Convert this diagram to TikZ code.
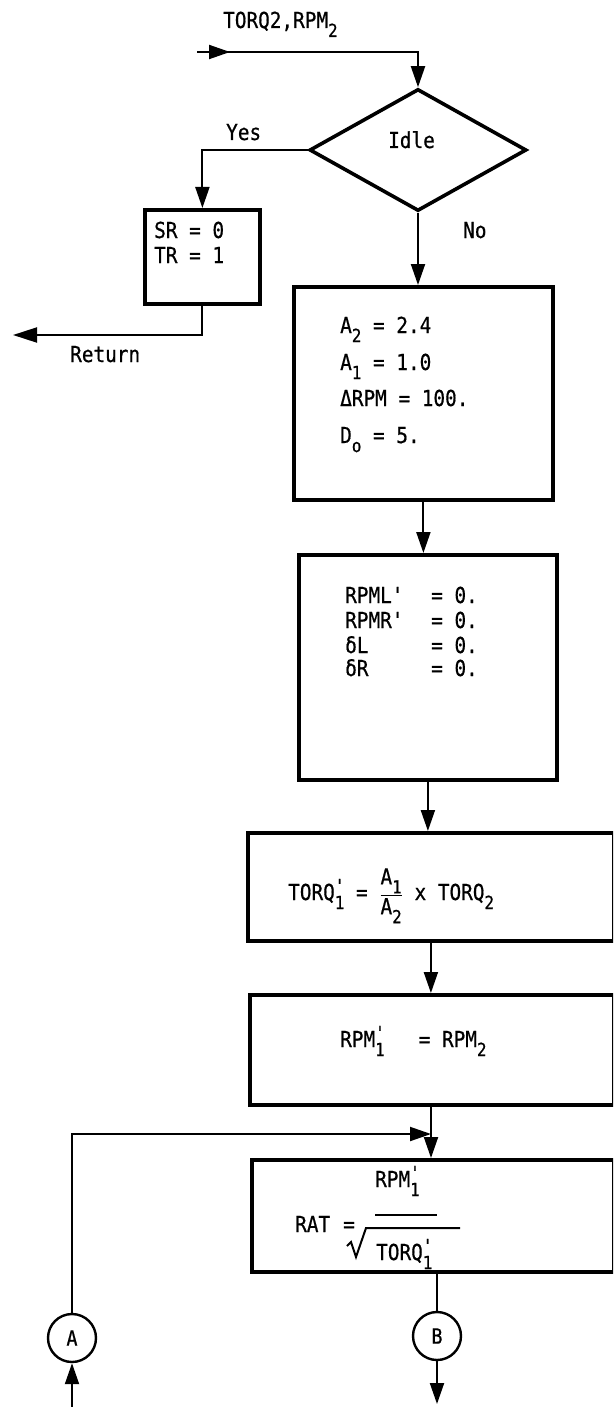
\documentclass[tikz,border=0pt]{standalone}
\usepackage{fontspec}
\setmainfont{DejaVu Sans Mono}
\newfontfamily\mono{DejaVu Sans Mono}[FakeStretch=0.88, FakeBold=0.6]
\usetikzlibrary{arrows.meta,shapes.geometric}
\newcommand\sbs[1]{\raisebox{-9pt}{\fontsize{18}{18}\selectfont #1}}
\newcommand\psb[1]{\makebox[0pt][l]{\raisebox{8pt}{\fontsize{18}{18}\selectfont '}}\raisebox{-9pt}{\fontsize{18}{18}\selectfont #1}}
\begin{document}
\begin{tikzpicture}[x=1pt,y=-1pt,
  box/.style={draw, line width=3.8pt, rectangle, inner sep=0pt, anchor=north west},
  conn/.style={line width=2pt},
  arr/.style={-{Triangle[length=21pt,width=14pt]}},
  txt/.style={inner sep=0pt, anchor=base west, font=\mono\fontsize{22}{26}\selectfont},
  conn2/.style={draw, circle, line width=2.4pt, minimum size=48pt, inner sep=0pt, font=\mono\fontsize{21}{24}\selectfont}]
\useasboundingbox (0,0) rectangle (613,1407);
\clip (0,0) rectangle (613,1407);
\fill[white] (0,0) rectangle (613,1407);

% title and decision
\node[txt] (title) at (223,28) {TORQ2,RPM\sbs{2}};
\node[draw, diamond, line width=3.6pt, minimum width=217pt, minimum height=122pt, inner sep=0pt] (dm) at (418,150) {};
\node[txt] (idle) at (388,148) {Idle};
\node[txt] (yes) at (226,140) {Yes};
\node[txt] (no) at (463,238) {No};

% boxes
\node[box, minimum width=115pt, minimum height=94pt] (sr) at (143,208) {};
\node[box, minimum width=259pt, minimum height=213pt] (pa) at (292,285) {};
\node[box, minimum width=258pt, minimum height=225pt] (pb) at (297,553) {};
\node[box, minimum width=366pt, minimum height=108pt] (tq) at (246,831) {};
\node[box, minimum width=364pt, minimum height=110pt] (rp) at (248,993) {};
\node[box, minimum width=362pt, minimum height=112pt] (rt) at (250,1158) {};

% box texts
\node[txt] (sr1) at (154,238) {SR = 0};
\node[txt] (sr2) at (154,263) {TR = 1};
\node[txt] (ret) at (70,362) {Return};

\node[txt] (pa1) at (340,333) {A\sbs{2} = 2.4};
\node[txt] (pa2) at (340,370) {A\sbs{1} = 1.0};
\node[txt] (pa3) at (340,406) {ΔRPM = 100.};
\node[txt] (pa4) at (340,443) {D\sbs{o} = 5.};

\node[txt] (pb1) at (345,603) {RPML'};
\node[txt] (pb2) at (345,628) {RPMR'};
\node[txt] (pb3) at (345,653) {δL};
\node[txt] (pb4) at (345,676) {δR};
\node[txt] (pb1v) at (431,603) {= 0.};
\node[txt] (pb2v) at (431,628) {= 0.};
\node[txt] (pb3v) at (431,653) {= 0.};
\node[txt] (pb4v) at (431,676) {= 0.};

\node[txt] (tqt) at (288,900) {TORQ\psb{1} = $\displaystyle\frac{\mbox{A\sbs{1}}}{\mbox{A\sbs{2}}}$ x TORQ\sbs{2}};
\node[txt] (rpt) at (340,1047) {RPM\psb{1}\hspace{34pt}= RPM\sbs{2}};

\node[txt] (rat) at (295,1232) {RAT};
\node[txt] (rateq) at (343,1232) {=};
\node[txt] (ratn) at (375,1187) {RPM\psb{1}};
\node[txt] (ratd) at (376,1260) {TORQ\psb{1}};
\draw[line width=1.8pt] (375,1215) -- (437,1215);
\draw[line width=2pt, line join=miter] (347,1246) -- (351,1242) -- (356,1257) -- (366,1228) -- (460,1228);

% connectors
\node[conn2] (ca) at (72,1338) {A};
\node[conn2] (cb) at (437,1336) {B};
\coordinate (in) at (197,52);
\coordinate (inarr) at (230,52);
\coordinate (retend) at (13,335);
\coordinate (loopj) at (431,1134);
\coordinate (bout) at (437,1404);
\coordinate (ain) at (72,1407);

\draw[conn, arr] (in) -- (inarr);
\draw[conn, arr] (in) -| (dm.north);
\draw[conn, arr] (dm.west) -| (sr.north);
\draw[conn, arr] (dm.south) -- (dm.south |- pa.north);
\draw[conn, -{Triangle[length=24pt,width=15pt]}] (sr.south) |- (retend);
\draw[conn, arr] (pa.south) -- (pa.south |- pb.north);
\draw[conn, arr] (pb.south) -- (pb.south |- tq.north);
\draw[conn, arr] (tq.south) -- (tq.south |- rp.north);
\draw[conn, arr] (rp.south -| loopj) -- (rt.north -| loopj);
\draw[conn, arr] (ca.north) |- (loopj);
\draw[conn] (rt.south -| cb) -- (cb.north);
\draw[conn, arr] (cb.south) -- (bout);
\draw[conn, arr] (ain) -- (ca.south);
\end{tikzpicture}
\end{document}
